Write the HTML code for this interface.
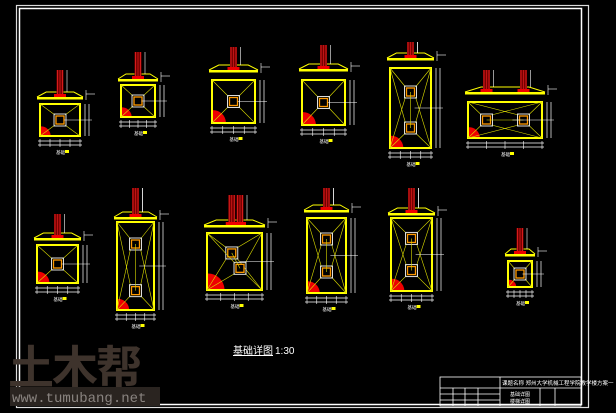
<!DOCTYPE html>
<html><head><meta charset="utf-8"><style>
html,body{margin:0;padding:0;background:#000;width:616px;height:413px;overflow:hidden}
svg{display:block}
</style></head><body>
<svg id="s" width="616" height="413" viewBox="0 0 616 413" xmlns="http://www.w3.org/2000/svg" font-family="Liberation Sans, Noto Sans CJK SC, sans-serif">
<rect width="616" height="413" fill="#000"/>
<rect x="16.5" y="5.5" width="572" height="402" fill="none" stroke="#ddd" stroke-width="1.2"/>
<rect x="19.5" y="8.5" width="562" height="396" fill="none" stroke="#fff" stroke-width="1.5"/>
<g id="g"></g>
<text x="233" y="354" fill="#fff" font-size="10" text-decoration="underline">基础详图</text>
<text x="275" y="354" fill="#fff" font-size="10">1:30</text>
<text x="8" y="384" fill="#3e332c" font-size="46" font-weight="bold" font-family="Noto Sans CJK SC, sans-serif" letter-spacing="-2">土木帮</text>
<rect x="10" y="387" width="150" height="19" fill="#2a2420"/>
<text x="12" y="402" fill="#8a8480" font-size="14" font-family="Liberation Mono, monospace">www.tumubang.net</text>
<g stroke="#fff" stroke-width="0.8" fill="none">
<rect x="440" y="377" width="141" height="29"/>
<line x1="500" y1="377" x2="500" y2="406"/>
<line x1="500" y1="388" x2="581" y2="388"/>
<line x1="440" y1="388" x2="500" y2="388"/>
<line x1="440" y1="394" x2="500" y2="394"/>
<line x1="440" y1="400" x2="500" y2="400"/>
<line x1="453" y1="388" x2="453" y2="406"/>
<line x1="465" y1="388" x2="465" y2="406"/>
<line x1="478" y1="388" x2="478" y2="406"/>
<line x1="540" y1="388" x2="540" y2="406"/>
<line x1="555" y1="388" x2="555" y2="406"/>
</g>
<text x="502" y="385" fill="#fff" font-size="5.5">课题名称 郑州大学机械工程学院教学楼方案一</text>
<text x="510" y="396" fill="#fff" font-size="5">基础详图</text>
<text x="510" y="403" fill="#fff" font-size="5">楼梯详图</text>
</svg>
<script>
var g=document.getElementById('g'),h='';
function L(a,b,c,d,col,w){h+='<line x1="'+a+'" y1="'+b+'" x2="'+c+'" y2="'+d+'" stroke="'+col+'" stroke-width="'+(w||0.8)+'"/>';}
function F(x,y,w,ht,piers,sy,py){
 var Y='#ff0';
 h+='<rect x="'+x+'" y="'+y+'" width="'+w+'" height="'+ht+'" fill="none" stroke="'+Y+'" stroke-width="2"/>';
 var r=Math.min(w,ht)*0.3;
 h+='<path d="M'+(x+1)+','+(y+ht-r)+' A'+r+','+r+' 0 0 1 '+(x+1+r)+','+(y+ht-1)+' L'+(x+1)+','+(y+ht-1)+'Z" fill="#e00"/>';
 piers.forEach(function(p){var cx=x+w*p[0],cy=y+ht*p[1],s=5;
  L(x,y,cx-s,cy-s,'#dd0',0.6);L(x+w,y,cx+s,cy-s,'#dd0',0.6);L(x,y+ht,cx-s,cy+s,'#dd0',0.6);L(x+w,y+ht,cx+s,cy+s,'#dd0',0.6);
  h+='<rect x="'+(cx-6)+'" y="'+(cy-6)+'" width="12" height="12" fill="none" stroke="#ddd" stroke-width="1"/>';
  h+='<rect x="'+(cx-4)+'" y="'+(cy-4)+'" width="8" height="8" fill="#000" stroke="#f90" stroke-width="1.3"/>';
 });
 if(piers.length==2)L(x+w*piers[0][0],y+ht*piers[0][1],x+w*piers[1][0],y+ht*piers[1][1],'#dd0',0.6);
 L(x+w+5,y,x+w+5,y+ht,'#fff',0.7);L(x+w+9,y,x+w+9,y+ht,'#fff',0.7);
 L(x-2,y+ht+5,x+w+2,y+ht+5,'#fff',0.7);L(x-2,y+ht+9,x+w+2,y+ht+9,'#fff',0.7);
 for(var i=0;i<=4;i++){var xx=x+w*i/4;L(xx,y+ht+3,xx,y+ht+11,'#fff',0.6);}
 L(x+w*0.6,y+ht*0.5,x+w+12,y+ht*0.5,'#fff',0.6);
 h+='<text x="'+(x+w/2-4)+'" y="'+(y+ht+18)+'" fill="#fff" font-size="4.5">基础</text><rect x="'+(x+w/2+5)+'" y="'+(y+ht+14)+'" width="4" height="3" fill="#ff0"/>';
 var sx=x-3,sw=w+6;
 h+='<path d="M'+sx+','+(sy+5)+' L'+(sx+sw*0.2)+','+(sy)+' L'+(sx+sw*0.8)+','+(sy)+' L'+(sx+sw)+','+(sy+5)+'" fill="none" stroke="#ff0" stroke-width="1"/>';
 h+='<rect x="'+sx+'" y="'+(sy+5)+'" width="'+sw+'" height="2.5" fill="#ff0"/>';
 L(sx+sw+3,sy-2,sx+sw+3,sy+8,'#fff',0.6);L(sx+sw+3,sy+2,sx+sw+12,sy+2,'#fff',0.6);
 piers.forEach(function(p){var cx=x+w*p[0];
  h+='<rect x="'+(cx-3.5)+'" y="'+py+'" width="7" height="'+(sy-py+5)+'" fill="#700"/>';
  L(cx-2.5,py,cx-2.5,sy+5,'#e22',0.8);L(cx+2.5,py,cx+2.5,sy+5,'#e22',0.8);L(cx,py,cx,sy+5,'#e22',0.6);
  L(cx+7,py,cx+7,sy,'#fff',0.6);
  h+='<rect x="'+(cx-6)+'" y="'+(sy+2)+'" width="12" height="3" fill="#e00"/>';
 });
}
F(40,104,40,32,[[0.5,0.5]],92,70);
F(121,85,34,32,[[0.5,0.5]],74,52);
F(212,80,43,43,[[0.5,0.5]],65,47);
F(302,80,43,45,[[0.5,0.5]],64,45);
F(390,68,41,80,[[0.5,0.3],[0.5,0.75]],53,42);
F(468,102,74,36,[[0.25,0.5],[0.75,0.5]],87,70);
F(37,245,41,38,[[0.5,0.5]],233,214);
F(117,222,37,88,[[0.5,0.25],[0.5,0.78]],212,188);
F(207,233,55,57,[[0.45,0.35],[0.6,0.62]],220,195);
F(307,218,39,75,[[0.5,0.28],[0.5,0.72]],205,188);
F(391,218,41,73,[[0.5,0.28],[0.5,0.72]],208,188);
F(508,261,24,26,[[0.5,0.5]],249,228);
g.innerHTML=h;
</script>
</body></html>
